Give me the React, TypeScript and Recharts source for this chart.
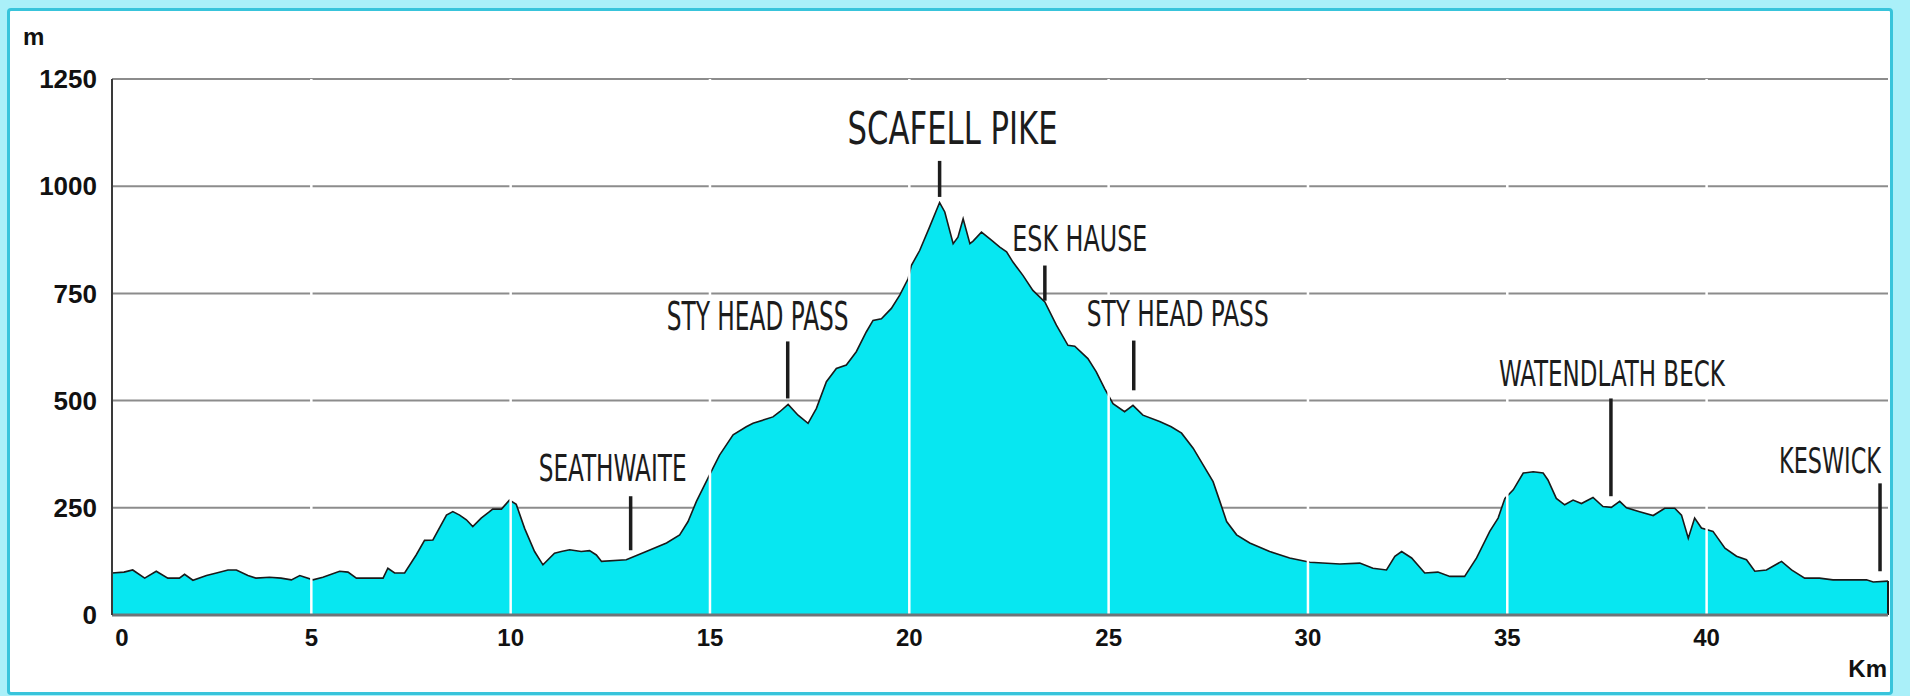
import { Area, AreaChart, CartesianGrid, ReferenceLine, XAxis, YAxis } from "recharts";

// profile: distance (km) and height (m)
const distanceKm = [
  0, 0.3, 0.52, 0.82, 1.11, 1.4, 1.69, 1.82, 2.03, 2.37, 2.62, 2.91, 3.12, 3.41, 3.61, 3.95, 4.24, 4.5, 4.71,
  5.04, 5.29, 5.71, 5.92, 6.13, 6.8, 6.92, 7.09, 7.34, 7.63, 7.84, 8.05, 8.39, 8.55, 8.72, 8.89, 9.05, 9.26,
  9.47, 9.55, 9.77, 9.97, 10.14, 10.35, 10.6, 10.81, 11.1, 11.27, 11.48, 11.77, 11.98, 12.15, 12.28, 12.9,
  13.4, 13.91, 14.24, 14.45, 14.66, 14.99, 15.24, 15.58, 15.91, 16.08, 16.58, 16.75, 16.96, 17.21, 17.46,
  17.67, 17.92, 18.17, 18.42, 18.67, 18.92, 19.09, 19.3, 19.55, 19.76, 19.97, 20.05, 20.26, 20.51, 20.76,
  20.89, 21.1, 21.22, 21.35, 21.52, 21.6, 21.81, 22.06, 22.27, 22.44, 22.6, 22.85, 23.1, 23.4, 23.69, 23.98,
  24.15, 24.48, 24.69, 24.9, 25.11, 25.4, 25.61, 25.86, 26.28, 26.57, 26.83, 27.12, 27.37, 27.62, 27.79,
  27.96, 28.21, 28.54, 29.04, 29.54, 30.05, 30.8, 31.3, 31.63, 31.97, 32.18, 32.35, 32.6, 32.93, 33.26,
  33.56, 33.93, 34.23, 34.56, 34.77, 34.94, 35.15, 35.4, 35.65, 35.9, 36.02, 36.23, 36.44, 36.65, 36.86,
  37.15, 37.4, 37.61, 37.82, 37.99, 38.32, 38.66, 38.95, 39.2, 39.37, 39.54, 39.7, 39.87, 40.16, 40.46,
  40.75, 41.0, 41.21, 41.5, 41.88, 42.13, 42.46, 42.83, 43.17, 44.01, 44.18, 44.55
];
const elevationM = [
  98, 100, 105, 86, 102, 86, 86, 95, 81, 92, 98, 105, 105, 92, 86, 88, 86, 82, 92,
  82, 88, 102, 100, 86, 86, 109, 98, 98, 140, 174, 175, 233, 241, 233, 222, 206, 226,
  241, 247, 247, 268, 258, 202, 148, 117, 144, 148, 152, 148, 150, 140, 125, 129,
  148, 168, 187, 218, 265, 327, 373, 420, 439, 447, 462, 474, 491, 466, 447,
  482, 544, 575, 583, 614, 660, 687, 691, 715, 746, 784, 815, 850, 905, 962,
  940, 866, 881, 924, 866, 872, 893, 874, 858, 847, 823, 792, 757, 730, 676, 629,
  627, 598, 567, 528, 493, 474, 489, 466, 451, 439, 424, 389, 350, 311, 265,
  218, 187, 168, 148, 133, 123, 119, 121, 109, 105, 137, 148, 133, 98, 100,
  90, 90, 133, 195, 226, 272, 292, 331, 334, 331, 315, 272, 257, 268, 260,
  274, 253, 251, 265, 250, 241, 232, 249, 249, 233, 179, 226, 203, 195, 156,
  137, 129, 102, 105, 125, 105, 86, 86, 82, 82, 77, 79
];

const xTicks = [0, 5, 10, 15, 20, 25, 30, 35, 40];
const yTicks = [0, 250, 500, 750, 1000, 1250];
const xMax = 44.55;

// place names and their pointer sticks (km, bottom m, top m)
const markerNames = ["SCAFELL PIKE", "ESK HAUSE", "STY HEAD PASS", "SEATHWAITE", "STY HEAD PASS", "WATENDLATH BECK", "KESWICK"];
const markerKm = [20.76, 23.4, 16.95, 13.01, 25.63, 37.6, 44.35];
const markerLow = [975, 733, 505, 151, 524, 277, 102];
const markerHigh = [1059, 815, 638, 277, 640, 505, 307];

// look of each place name: shift of its centre from the stick, gap above it, width, size
const labelLook = [
  { dx: 13, gap: 17, width: 210, size: 45 },
  { dx: 35, gap: 15, width: 135, size: 35 },
  { dx: -30, gap: 11, width: 182, size: 39 },
  { dx: -18, gap: 15, width: 148, size: 37 },
  { dx: 44, gap: 15, width: 182, size: 36 },
  { dx: 1, gap: 12, width: 226, size: 35 },
  { dx: -50, gap: 10, width: 102, size: 36 }
];

const data = distanceKm.map((km, i) => ({ km, elev: elevationM[i] }));

const axisFont = "'Liberation Sans', Arial, sans-serif";
const placeFont = "'Liberation Sans Narrow', 'DejaVu Sans Condensed', 'Roboto', sans-serif";

const measureCtx = typeof document !== "undefined" ? document.createElement("canvas").getContext("2d") : null;
function naturalWidth(text: string, size: number) {
  if (!measureCtx) return text.length * size * 0.55;
  measureCtx.font = `${size}px ${placeFont}`;
  return measureCtx.measureText(text).width || text.length * size * 0.55;
}

function XTick({ x, y, payload }: any) {
  const shift = payload.value === 0 ? 10 : 0;
  return (
    <text x={x + shift} y={y} dy="0.72em" textAnchor="middle" fontFamily={axisFont} fontWeight={700} fontSize={24} fill="#111">
      {payload.value}
    </text>
  );
}

function markerLabel(i: number) {
  const s = labelLook[i];
  const name = markerNames[i];
  const sx = s.width / naturalWidth(name, s.size);
  return (props: any) => {
    const vb = props.viewBox || {};
    const left = (vb.x ?? 0) + (vb.width ?? 0) / 2 + s.dx - s.width / 2;
    const y = (vb.y ?? 0) - s.gap;
    return (
      <text
        transform={`translate(${left},${y}) scale(${sx},1)`}
        x={0}
        y={0}
        textAnchor="start"
        fontFamily={placeFont}
        fontSize={s.size}
        fill="#1c1c1c"
      >
        {name}
      </text>
    );
  };
}

export default function App() {
  const lastKm = distanceKm[distanceKm.length - 1];
  const lastElev = elevationM[elevationM.length - 1];
  return (
    <div style={{ position: "relative", width: 1910, height: 696, background: "#aaf0f9", overflow: "hidden" }}>
      <style>{"body{margin:0}"}</style>
      <div
        style={{
          position: "absolute",
          left: 7,
          top: 8,
          width: 1880,
          height: 681,
          border: "3px solid #38c4db",
          borderRadius: 4,
          background: "#fff"
        }}
      />
      <div style={{ position: "absolute", left: 0, top: 0 }}>
        <AreaChart width={1910} height={696} data={data} margin={{ top: 79, right: 22, bottom: 41, left: 0 }}>
          <CartesianGrid vertical={false} stroke="#8c8c8c" strokeWidth={2} />
          <XAxis
            dataKey="km"
            type="number"
            domain={[0, xMax]}
            ticks={xTicks}
            allowDataOverflow
            height={40}
            tickLine={false}
            tickSize={0}
            tickMargin={14}
            axisLine={{ stroke: "#6e7478", strokeWidth: 3 }}
            tick={<XTick />}
          />
          <YAxis
            type="number"
            domain={[0, 1250]}
            ticks={yTicks}
            width={112}
            tickLine={false}
            tickSize={0}
            tickMargin={15}
            axisLine={{ stroke: "#3a3a3a", strokeWidth: 2 }}
            tick={{ fontFamily: axisFont, fontWeight: 700, fontSize: 26, fill: "#111" }}
          />
          <Area
            type="linear"
            dataKey="elev"
            stroke="#1a1a1a"
            strokeWidth={1.6}
            fill="#07e7f1"
            fillOpacity={1}
            isAnimationActive={false}
            dot={false}
            activeDot={false}
          />
          <CartesianGrid
            horizontal={false}
            verticalValues={xTicks.filter((t) => t > 0)}
            stroke="#ffffff"
            strokeWidth={2.5}
            zIndex={150}
          />
          <ReferenceLine
            segment={[{ x: lastKm, y: 0 }, { x: lastKm, y: lastElev }]}
            stroke="#1a1a1a"
            strokeWidth={2}
          />
          {markerNames.map((name, i) => (
            <ReferenceLine
              key={name + i}
              segment={[{ x: markerKm[i], y: markerLow[i] }, { x: markerKm[i], y: markerHigh[i] }]}
              stroke="#1c1c1c"
              strokeWidth={3.5}
              label={markerLabel(i)}
            />
          ))}
        </AreaChart>
      </div>
      <svg width={1910} height={696} style={{ position: "absolute", left: 0, top: 0, pointerEvents: "none" }}>
        <text x={23} y={45} fontFamily={axisFont} fontWeight={700} fontSize={24} fill="#111">m</text>
        <text x={1887} y={677} textAnchor="end" fontFamily={axisFont} fontWeight={700} fontSize={24} fill="#111">Km</text>
      </svg>
    </div>
  );
}
